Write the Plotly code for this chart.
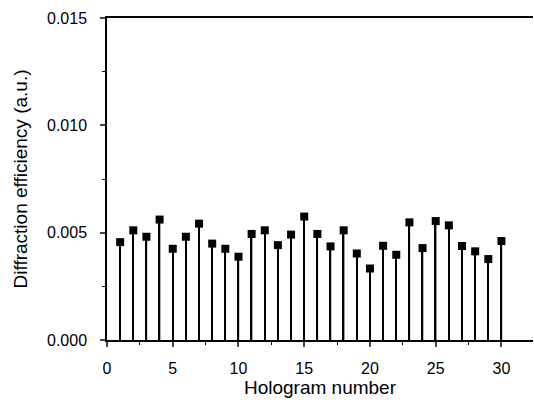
import plotly.graph_objects as go

hologram = list(range(1, 31))
efficiency = [0.00456, 0.00511, 0.00481, 0.00561, 0.00425, 0.00481, 0.00542, 0.00449,
              0.00425, 0.00388, 0.00494, 0.00511, 0.00442, 0.00491, 0.00575, 0.00494,
              0.00436, 0.00511, 0.00403, 0.00333, 0.00439, 0.00397, 0.00548, 0.00428,
              0.00554, 0.00534, 0.00438, 0.00413, 0.00377, 0.00461]

x_ticks = [0, 5, 10, 15, 20, 25, 30]
y_ticks = [0.000, 0.005, 0.010, 0.015]

fig = go.Figure()
fig.add_trace(go.Bar(x=hologram, y=efficiency, width=0.11,
                     marker=dict(color="black", line=dict(width=0)), hoverinfo="skip"))
fig.add_trace(go.Scatter(x=hologram, y=efficiency, mode="markers",
                         marker=dict(symbol="square", size=8, color="black")))

font = "Liberation Sans, Arial, sans-serif"
fig.update_layout(
    width=534, height=400,
    margin=dict(l=107, r=1, t=18, b=60),
    paper_bgcolor="white", plot_bgcolor="white",
    showlegend=False,
    font=dict(family=font, color="black", size=16),
    xaxis=dict(
        range=[0, 32.4], tickvals=x_ticks, ticks="outside", ticklen=5, tickwidth=1.5,
        showline=True, linecolor="black", linewidth=1.5, mirror=True,
        showgrid=False, zeroline=False, ticklabelstandoff=8,
        minor=dict(dtick=2.5, ticks="outside", ticklen=3, tickwidth=1.2, tickcolor="black"),
        title=dict(text="Hologram number", font=dict(size=19), standoff=5),
        tickfont=dict(size=16),
    ),
    yaxis=dict(
        range=[0, 0.015], tickvals=y_ticks, tickformat=".3f", ticks="outside", ticklen=5,
        tickwidth=1.5, showline=True, linecolor="black", linewidth=1.5, mirror=False,
        showgrid=False, zeroline=False, ticklabelstandoff=10,
        minor=dict(dtick=0.0025, ticks="outside", ticklen=3, tickwidth=1.2, tickcolor="black"),
        title=dict(text="Diffraction efficiency (a.u.)", font=dict(size=19), standoff=14),
        tickfont=dict(size=16),
    ),
)
fig.write_html("out.html", config={"displayModeBar": False},
               post_script="document.body.style.margin='0';document.body.style.overflow='hidden';")
